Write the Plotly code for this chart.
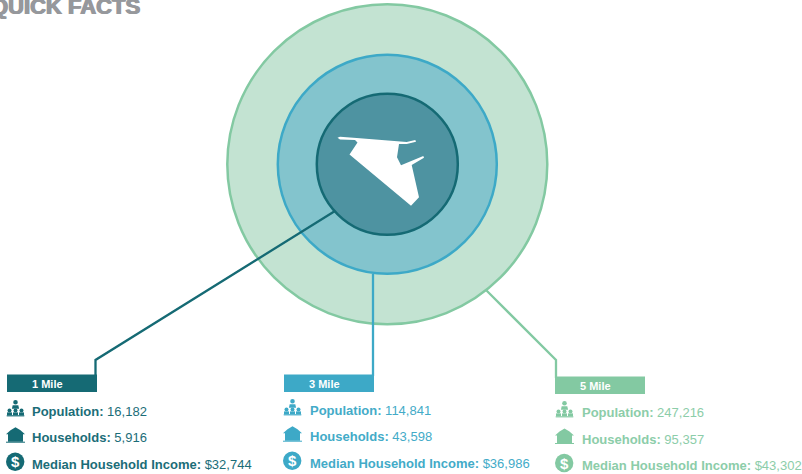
import plotly.graph_objects as go

# ---- content ----
title = "QUICK FACTS"
rings = ["1 Mile", "3 Mile", "5 Mile"]
population = ["16,182", "114,841", "247,216"]
households = ["5,916", "43,598", "95,357"]
income = ["$32,744", "$36,986", "$43,302"]

# ---- style ----
strokes = ["#156a74", "#3da9c7", "#83c9a2"]
fills = ["#4e93a1", "#83c4cd", "#c3e3d2"]
text_colors = ["#1b6d78", "#43abc8", "#8ccda9"]
FONT = "Liberation Sans"

# ---- layout (pixels of the 802x474 page) ----
cx, cy = 387.3, 164.3
radii = [70.5, 109.5, 160]
panel_x = [7, 284, 555]          # left edge of label bars
panel_y = [374.5, 374.5, 376.5]  # top of label bars
bar_w, bar_h = 90, 17.5
text_x = [32, 309.5, 581.5]
row_y = [[411.7, 437.7, 464], [410.7, 436.7, 463], [412.7, 439, 465.3]]
icon_x = [15.5, 292.5, 564.5]
leaders = [
    [(335, 211), (95.5, 360), (95.5, 376)],
    [(373, 274), (373, 376)],
    [(486, 290), (556, 360), (556, 378)],
]
territory = [(337.5, 137.7), (340, 139.5), (355, 140), (357.5, 142.5), (349.5, 154.5),
             (411, 205.7), (419, 197.3), (411.7, 165), (424, 157.7), (423.3, 156),
             (401, 165.3), (397, 157.3), (399, 144), (406.7, 144), (416, 141.7),
             (415.3, 140), (406.7, 142), (356.7, 138), (340, 136.7)]


def poly(pts, close=True):
    return "M" + " L".join(f"{x},{y}" for x, y in pts) + (" Z" if close else "")


def circle(x, y, r, fill, line=None, width=0):
    return dict(type="circle", xref="x", yref="y", x0=x - r, x1=x + r, y0=y - r, y1=y + r,
                fillcolor=fill, line=dict(color=line or fill, width=width))


def path(d, fill, line=None, width=0):
    return dict(type="path", xref="x", yref="y", path=d, fillcolor=fill,
                line=dict(color=line or fill, width=width))


def leader(i):
    return dict(type="path", xref="x", yref="y", path=poly(leaders[i], False),
                line=dict(color=strokes[i], width=2.3), fillcolor="rgba(0,0,0,0)")


def people_icon(x, y, c):
    out = [circle(x, y - 6, 2.3, c),
           path(poly([(x - 3.6, y + 0.5), (x - 2.8, y - 3), (x + 2.8, y - 3), (x + 3.6, y + 0.5)]), c)]
    for dx in (-6, 0, 6):
        out.append(circle(x + dx, y + 2.2, 2.0, c))
        out.append(path(poly([(x + dx - 2.5, y + 7), (x + dx - 2.5, y + 4.2), (x + dx + 2.5, y + 4.2),
                              (x + dx + 2.5, y + 7)]), c))
    out.append(path(poly([(x - 8.8, y + 7), (x + 8.8, y + 7), (x + 8.8, y + 8.2), (x - 8.8, y + 8.2)]), c))
    return out


def house_icon(x, y, c):
    return [
        path(poly([(x, y - 9), (x + 5, y - 6), (x + 9.5, y - 2), (x + 7.5, y - 2), (x + 7.5, y + 5.5),
                   (x - 7.5, y + 5.5), (x - 7.5, y - 2), (x - 9.5, y - 2), (x - 5, y - 6)]), c),
        path(poly([(x - 9.5, y + 5.5), (x + 9.5, y + 5.5), (x + 9.5, y + 6.5), (x - 9.5, y + 6.5)]), c),
    ]


shapes = [
    circle(cx, cy, radii[2], fills[2], strokes[2], 2.5),
    leader(2),
    circle(cx, cy, radii[1], fills[1], strokes[1], 2.5),
    leader(1),
    leader(0),
    circle(cx, cy, radii[0], fills[0], strokes[0], 2.5),
    path(poly(territory), "#ffffff"),
]

annotations = [dict(x=140.5, y=6.5, text=f"<b>{title}</b>", xanchor="right", yanchor="middle", showarrow=False,
                    font=dict(family="Liberation Sans", size=22, color="#96989c",
                              shadow="0.7px 0 0 #96989c, -0.7px 0 0 #96989c"), borderpad=0)]


def label(x, y, text, color, size=13, anchor="left"):
    annotations.append(dict(x=x, y=y, text=text, xanchor=anchor, yanchor="middle", showarrow=False,
                            font=dict(family=FONT, size=size, color=color), borderpad=0, borderwidth=0))


for i, ring in enumerate(rings):
    c = strokes[i]
    tc = text_colors[i]
    shapes.append(dict(type="rect", xref="x", yref="y", x0=panel_x[i], x1=panel_x[i] + bar_w,
                       y0=panel_y[i], y1=panel_y[i] + bar_h, fillcolor=c, line=dict(width=0)))
    label(panel_x[i] + 40.5, panel_y[i] + 9.3, f"<b>{ring}</b>", "#ffffff", 11, "center")
    ry = row_y[i]
    label(text_x[i], ry[0], f"<b>Population:</b> {population[i]}", tc)
    label(text_x[i], ry[1], f"<b>Households:</b> {households[i]}", tc)
    label(text_x[i], ry[2], f"<b>Median Household Income:</b> {income[i]}", tc)
    shapes += people_icon(icon_x[i], ry[0] - 3.5, c)
    shapes += house_icon(icon_x[i], ry[1] - 1.5, c)
    shapes.append(circle(icon_x[i] - 0.3, ry[2] - 2.3, 9.2, c))
    label(icon_x[i] - 0.3, ry[2] - 2.3, "<b>$</b>", "#ffffff", 15, "center")

fig = go.Figure()
fig.update_layout(
    width=802, height=474, margin=dict(l=0, r=0, t=0, b=0),
    paper_bgcolor="#ffffff", plot_bgcolor="#ffffff", showlegend=False,
    xaxis=dict(range=[0, 802], visible=False, fixedrange=True),
    yaxis=dict(range=[474, 0], visible=False, fixedrange=True),
    shapes=shapes, annotations=annotations,
)
fig.write_html("out.html", config={"displayModeBar": False},
               post_script="document.body.style.margin='0';document.documentElement.style.overflow='hidden';")
